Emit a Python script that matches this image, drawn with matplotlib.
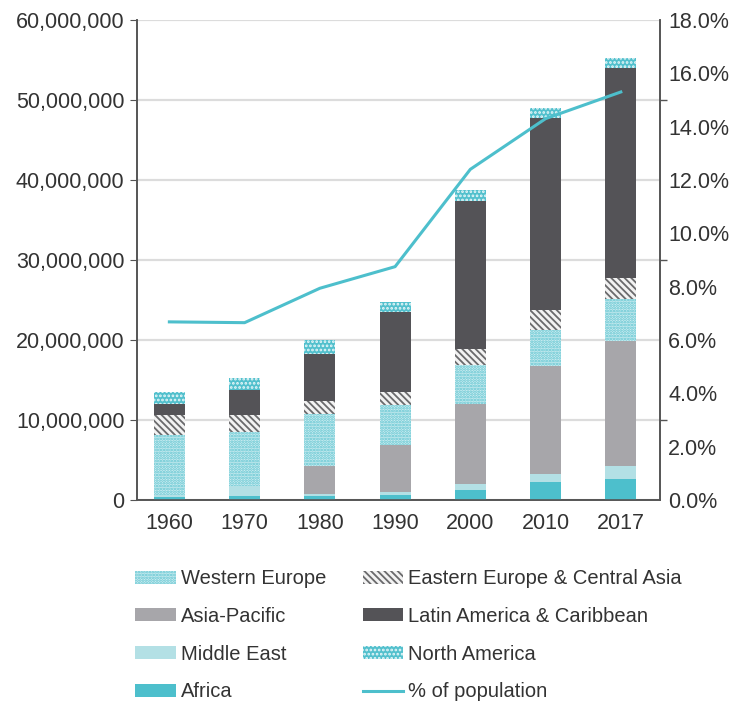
import matplotlib
matplotlib.use('Agg')
import matplotlib.pyplot as plt
from matplotlib.ticker import FuncFormatter, MultipleLocator

plt.rcParams['font.family'] = ['Liberation Sans', 'DejaVu Sans']
plt.rcParams['hatch.linewidth'] = 1.3

years = ['1960', '1970', '1980', '1990', '2000', '2010', '2017']

# millions, stacked from the bottom
africa = [0.4, 0.5, 0.5, 0.6, 1.2, 2.2, 2.6]
middle_east = [0.2, 1.2, 0.3, 0.4, 0.8, 1.05, 1.65]
asia_pacific = [0.0, 0.0, 3.4, 5.9, 10.0, 13.45, 15.65]
western_europe = [7.5, 6.8, 6.6, 5.0, 4.9, 4.5, 5.2]
eastern_europe = [2.5, 2.1, 1.6, 1.6, 2.0, 2.5, 2.6]
latin_america = [1.4, 3.2, 5.9, 10.0, 18.5, 24.0, 26.25]
north_america = [1.5, 1.5, 1.7, 1.3, 1.35, 1.25, 1.35]

pct_population = [6.68, 6.65, 7.94, 8.75, 12.4, 14.3, 15.3]

series = [
    ('Africa', africa, dict(color='#4dbfcc')),
    ('Middle East', middle_east, dict(color='#b3e0e5')),
    ('Asia-Pacific', asia_pacific, dict(color='#a7a6aa')),
    ('Western Europe', western_europe, dict(facecolor='#cdedf1', edgecolor='#5fc4d0', hatch='......', linewidth=0)),
    ('Eastern Europe & Central Asia', eastern_europe, dict(facecolor='#f2f2f2', edgecolor='#6a6a6c', hatch='\\\\\\\\\\', linewidth=0)),
    ('Latin America & Caribbean', latin_america, dict(color='#545357')),
    ('North America', north_america, dict(facecolor='#52c0cd', edgecolor='#e8f7f9', hatch='....', linewidth=0)),
]

fig = plt.figure(figsize=(7.39, 7.01), dpi=100)
ax = fig.add_axes([0.1854, 0.2867, 0.7076, 0.6848])
ax2 = ax.twinx()

x = list(range(len(years)))
bottom = [0.0] * len(years)
handles = {}
for name, vals, style in series:
    vals_abs = [v * 1e6 for v in vals]
    b = ax.bar(x, vals_abs, bottom=bottom, width=0.41, label=name, zorder=3, **style)
    handles[name] = b
    bottom = [bo + v for bo, v in zip(bottom, vals_abs)]

line, = ax2.plot(x, pct_population, color='#4dbfcc', linewidth=2.2, label='% of population')

ax.set_xlim(-0.43, 6.52)
ax.set_ylim(0, 60e6)
ax.yaxis.set_major_locator(MultipleLocator(10e6))
ax.yaxis.set_major_formatter(FuncFormatter(lambda v, p: f'{int(v):,}'))
ax.set_xticks(x)
ax.set_xticklabels(years)
ax.grid(axis='y', color='#dcdcdc', linewidth=1.6, zorder=0)
ax.set_axisbelow(True)

ax2.set_ylim(0, 18)
ax2.yaxis.set_major_locator(MultipleLocator(2))
ax2.yaxis.set_major_formatter(FuncFormatter(lambda v, p: f'{v:.1f}%'))
ax2.yaxis.set_minor_locator(MultipleLocator(3))
ax2.tick_params(axis='y', which='major', length=0, pad=6, labelsize=15.5, labelcolor='#333333')
ax2.tick_params(axis='y', which='minor', length=5, color='#555555', width=1)

for a in (ax, ax2):
    a.spines['top'].set_visible(False)
    for s in ('left', 'right', 'bottom'):
        a.spines[s].set_color('#555555')
        a.spines[s].set_linewidth(1.2)

ax.tick_params(axis='y', length=5, color='#555555', labelsize=15.5, labelcolor='#333333', pad=4)
ax.tick_params(axis='x', length=0, labelsize=15.5, labelcolor='#333333', pad=9)

order = ['Western Europe', 'Asia-Pacific', 'Middle East', 'Africa',
         'Eastern Europe & Central Asia', 'Latin America & Caribbean', 'North America']
leg_handles = [handles[n] for n in order] + [line]
leg_labels = order + ['% of population']
fig.legend(leg_handles, leg_labels, ncol=2, loc='upper left',
           bbox_to_anchor=(0.183, 0.188), frameon=False, fontsize=14.5,
           handlelength=2.0, handleheight=0.6, handletextpad=0.25,
           columnspacing=1.85, labelspacing=0.93, borderpad=0, borderaxespad=0,
           labelcolor='#333333')

fig.savefig('out.png', dpi=100)
